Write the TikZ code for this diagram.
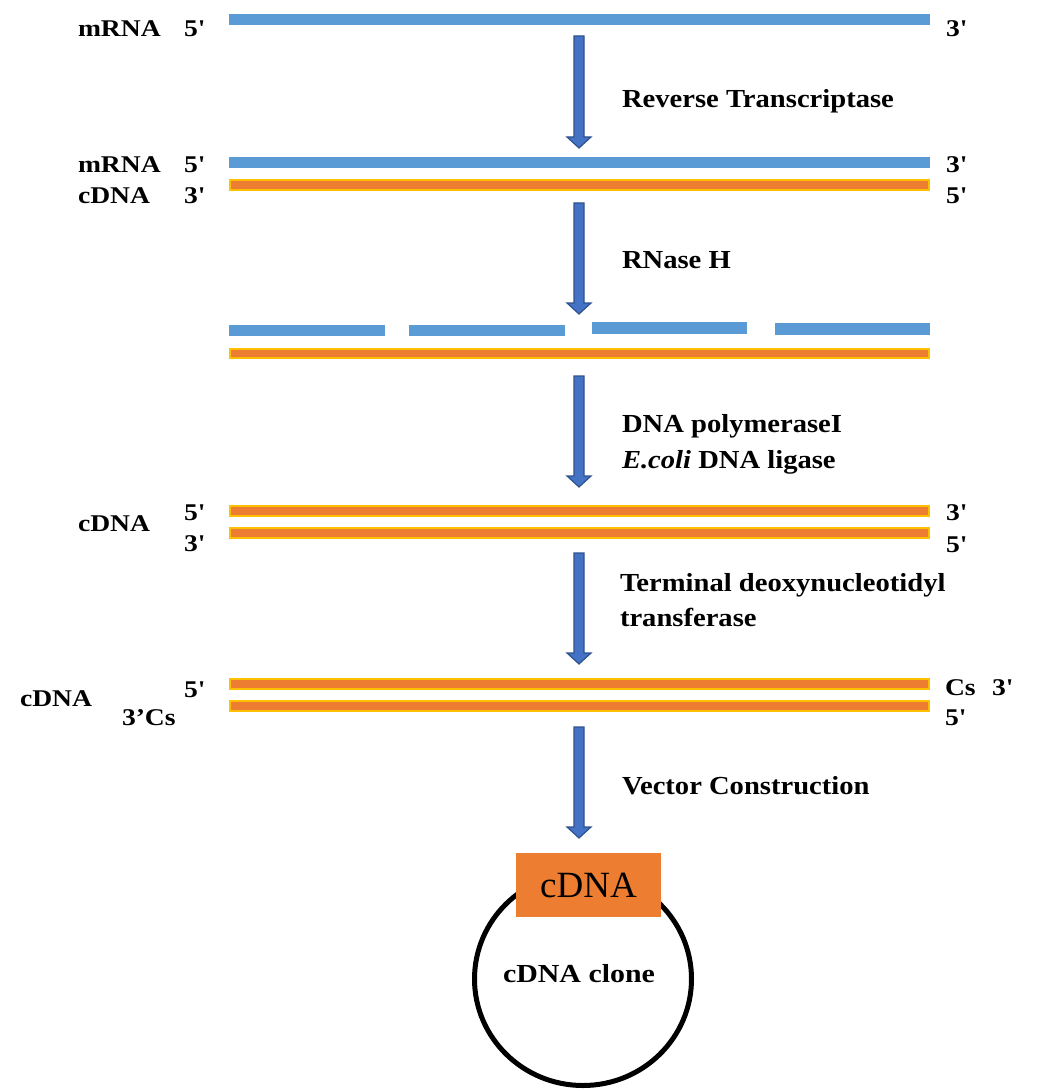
\documentclass[tikz,border=0pt]{standalone}
\usepackage{fontspec}
\usepackage{graphicx}
\setmainfont{Liberation Serif}
\definecolor{rnablue}{HTML}{5B9BD5}
\definecolor{dnaorange}{HTML}{ED7D31}
\definecolor{dnayellow}{HTML}{FFC000}
\definecolor{arrowfill}{HTML}{4472C4}
\definecolor{arrowline}{HTML}{2F528F}
\newcommand\ap{{\XeTeXglyph\XeTeXglyphindex "quotesingle"\relax}}
\newcommand\slab[1]{\scalebox{1.15}[1]{\fontsize{24}{28}\selectfont\bfseries #1}}
\newcommand\elab[1]{\scalebox{1.1}[1]{\fontsize{26}{30}\selectfont\bfseries #1}}
\newcommand\blockarrow[2]{%
  \filldraw[fill=arrowfill, draw=arrowline, line width=1.2pt, line join=miter]
    (574,#1) -- (584,#1) -- (584,{#2-11}) -- (591,{#2-11}) -- (579,#2)
    -- (567,{#2-11}) -- (574,{#2-11}) -- cycle;}
\tikzset{
  rna/.style={fill=rnablue},
  dna/.style={fill=dnaorange, draw=dnayellow, line width=2pt},
  lab/.style={anchor=base west, inner sep=0pt, outer sep=0pt},
}
\begin{document}
\begin{tikzpicture}[x=1pt,y=-1pt]
\useasboundingbox (0,0) rectangle (1064,1091);
% row 1
\fill[rna] (229,14) rectangle (930,25);
\node[lab] (m1) at (78,37) {\slab{mRNA}};
\node[lab] (m1a) at (184,37) {\slab{5\ap}};
\node[lab] (m1b) at (946,37) {\slab{3\ap}};
\blockarrow{36}{148}
\node[lab] (e1) at (622,108) {\elab{Reverse Transcriptase}};
% row 2
\fill[rna] (229,157) rectangle (930,168);
\path[dna] (230,180) rectangle (929,190);
\node[lab] (m2) at (78,173) {\slab{mRNA}};
\node[lab] (m2a) at (184,173) {\slab{5\ap}};
\node[lab] (m2b) at (946,173) {\slab{3\ap}};
\node[lab] (c2) at (78,204) {\slab{cDNA}};
\node[lab] (c2a) at (184,204) {\slab{3\ap}};
\node[lab] (c2b) at (946,204) {\slab{5\ap}};
\blockarrow{203}{314}
\node[lab] (e2) at (622,268) {\elab{RNase H}};
% row 3
\fill[rna] (229,325) rectangle (385,336);
\fill[rna] (409,325) rectangle (565,336);
\fill[rna] (592,322) rectangle (747,334);
\fill[rna] (775,323) rectangle (930,335);
\path[dna] (230,349) rectangle (929,358);
\blockarrow{376}{487}
\node[lab] (e3) at (622,432) {\elab{DNA polymeraseI}};
\node[lab] (e3b) at (622,468) {\elab{\textit{E.coli} DNA ligase}};
% row 4
\path[dna] (230,506) rectangle (929,516);
\path[dna] (230,528) rectangle (929,538);
\node[lab] (c4) at (78,531) {\slab{cDNA}};
\node[lab] (c4a) at (184,520) {\slab{5\ap}};
\node[lab] (c4b) at (184,551) {\slab{3\ap}};
\node[lab] (c4c) at (946,520) {\slab{3\ap}};
\node[lab] (c4d) at (946,552) {\slab{5\ap}};
\blockarrow{553}{664}
\node[lab] (e4) at (620,591) {\elab{Terminal deoxynucleotidyl}};
\node[lab] (e4b) at (620,626) {\elab{transferase}};
% row 5
\path[dna] (230,679) rectangle (929,689);
\path[dna] (230,701) rectangle (929,711);
\node[lab] (c5) at (20,706) {\slab{cDNA}};
\node[lab] (c5a) at (184,697) {\slab{5\ap}};
\node[lab] (c5b) at (122,725) {\slab{3’Cs}};
\node[lab] (c5c) at (945,695) {\slab{Cs}};
\node[lab] (c5d) at (992,695) {\slab{3\ap}};
\node[lab] (c5e) at (945,725) {\slab{5\ap}};
\blockarrow{727}{838}
\node[lab] (e5) at (622,794) {\elab{Vector Construction}};
% vector
\draw[line width=5pt] (583,979) ellipse [x radius=108.5, y radius=106.5];
\fill[dnaorange] (516,853) rectangle (661,917);
\node[anchor=base, inner sep=0pt] (box) at (588.5,897) {\fontsize{37}{40}\selectfont cDNA};
\node[lab] (clone) at (503,982) {\scalebox{1.15}[1]{\fontsize{26}{30}\selectfont\bfseries cDNA clone}};
\end{tikzpicture}
\end{document}
